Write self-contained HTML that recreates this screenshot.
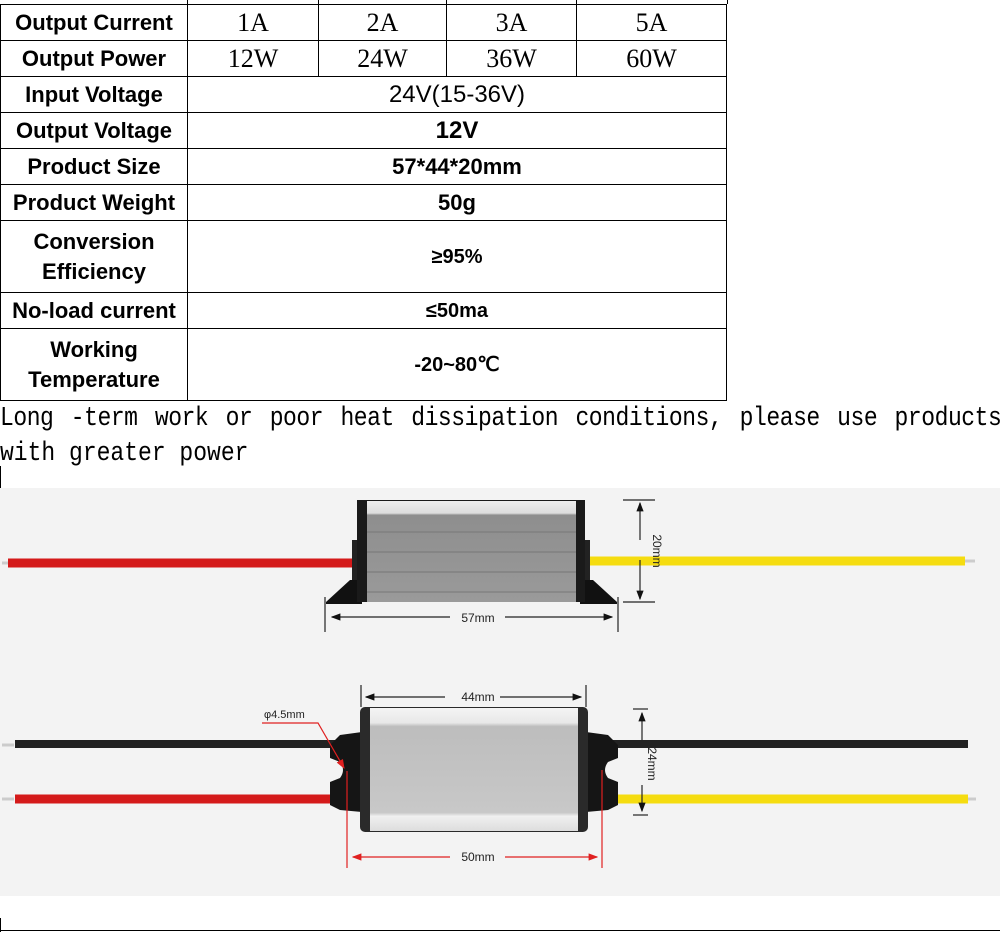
<!DOCTYPE html>
<html><head><meta charset="utf-8"><style>
body{margin:0;background:#fff;width:1000px;height:932px;overflow:hidden;position:relative;font-family:"Liberation Sans",sans-serif}
table{position:absolute;left:0;top:4px;border-collapse:collapse;width:727px}
td{border:1px solid #000;padding:0;text-align:center;font-weight:bold;font-size:22px;height:35px;line-height:26px}
td.l{width:186px}
td.s{font-family:"Liberation Serif",serif;font-weight:normal;font-size:26px}
.ln{position:absolute;left:0;width:1000px;font-family:"Liberation Mono",monospace;font-size:23px;line-height:30px;white-space:nowrap;transform:scaleY(1.15);transform-origin:0 0}
</style></head><body>
<div style="position:absolute;left:0;top:0;width:727px;height:4px;border-right:1px solid #000"></div>
<div style="position:absolute;left:187px;top:0;width:1px;height:4px;background:#000"></div>
<div style="position:absolute;left:318px;top:0;width:1px;height:4px;background:#000"></div>
<div style="position:absolute;left:446px;top:0;width:1px;height:4px;background:#000"></div>
<div style="position:absolute;left:576px;top:0;width:1px;height:4px;background:#000"></div>
<table>
<tr><td class="l">Output Current</td><td class="s" style="width:130px">1A</td><td class="s" style="width:127px">2A</td><td class="s" style="width:129px">3A</td><td class="s">5A</td></tr>
<tr><td class="l">Output Power</td><td class="s">12W</td><td class="s">24W</td><td class="s">36W</td><td class="s">60W</td></tr>
<tr><td class="l">Input Voltage</td><td colspan="4" style="font-weight:normal;font-size:24px">24V(15-36V)</td></tr>
<tr><td class="l">Output Voltage</td><td colspan="4" style="font-size:24px">12V</td></tr>
<tr><td class="l">Product Size</td><td colspan="4">57*44*20mm</td></tr>
<tr><td class="l">Product Weight</td><td colspan="4">50g</td></tr>
<tr><td class="l" style="height:71px;line-height:30px">Conversion<br>Efficiency</td><td colspan="4" style="font-size:20px">≥95%</td></tr>
<tr><td class="l">No-load current</td><td colspan="4" style="font-size:20px">≤50ma</td></tr>
<tr><td class="l" style="height:71px;line-height:30px">Working<br>Temperature</td><td colspan="4" style="font-size:20px">-20~80℃</td></tr>
</table>
<div class="ln" style="top:401px;letter-spacing:-0.45px;word-spacing:4px">Long -term work or poor heat dissipation conditions, please use products</div>
<div class="ln" style="top:436px">with greater power</div>
<div style="position:absolute;left:0;top:466px;width:1px;height:22px;background:#000"></div>
<svg style="position:absolute;left:0;top:0" width="1000" height="932">
<defs>
<linearGradient id="g1" x1="0" y1="0" x2="0" y2="1"><stop offset="0" stop-color="#eee"/><stop offset="0.12" stop-color="#ddd"/><stop offset="0.14" stop-color="#8e8e8e"/><stop offset="1" stop-color="#9a9a9a"/></linearGradient>
<linearGradient id="g2" x1="0" y1="0" x2="0" y2="1"><stop offset="0" stop-color="#f4f4f4"/><stop offset="0.12" stop-color="#e8e8e8"/><stop offset="0.15" stop-color="#bdbdbd"/><stop offset="0.85" stop-color="#c8c8c8"/><stop offset="0.88" stop-color="#f0f0f0"/><stop offset="1" stop-color="#ddd"/></linearGradient>
<marker id="ab" markerWidth="8" markerHeight="8" refX="7" refY="4" orient="auto"><path d="M0,1 L8,4 L0,7z" fill="#111"/></marker>
<marker id="ar" markerWidth="8" markerHeight="8" refX="7" refY="4" orient="auto"><path d="M0,1 L8,4 L0,7z" fill="#e02020"/></marker>
</defs>
<rect x="0" y="488" width="1000" height="408" fill="#f3f3f3"/>
<line x1="2" y1="563" x2="12" y2="563" stroke="#ccc" stroke-width="3"/>
<line x1="8" y1="563" x2="360" y2="563" stroke="#d41a1a" stroke-width="9"/>
<line x1="585" y1="561" x2="965" y2="561" stroke="#f5dc10" stroke-width="9"/>
<line x1="965" y1="561" x2="975" y2="561" stroke="#ccc" stroke-width="3"/>
<path d="M326,602 L350,580 L362,580 L362,604 L326,604z" fill="#111"/>
<path d="M617,602 L593,580 L580,580 L580,604 L617,604z" fill="#111"/>
<rect x="352" y="540" width="10" height="40" fill="#222"/>
<rect x="580" y="540" width="10" height="40" fill="#222"/>
<rect x="357" y="500" width="228" height="102" fill="#1a1a1a"/>
<rect x="367" y="501" width="209" height="101" fill="url(#g1)"/>
<g stroke="#777" stroke-width="1"><line x1="367" y1="532" x2="576" y2="532"/><line x1="367" y1="552" x2="576" y2="552"/><line x1="367" y1="572" x2="576" y2="572"/><line x1="367" y1="592" x2="576" y2="592"/></g>
<g stroke="#222" stroke-width="1.2" fill="none">
<line x1="623" y1="500" x2="655" y2="500"/><line x1="623" y1="602" x2="655" y2="602"/>
<line x1="640" y1="540" x2="640" y2="503" marker-end="url(#ab)"/><line x1="640" y1="560" x2="640" y2="599" marker-end="url(#ab)"/>
<line x1="325" y1="597" x2="325" y2="632"/><line x1="618" y1="597" x2="618" y2="632"/>
<line x1="450" y1="617" x2="332" y2="617" marker-end="url(#ab)"/><line x1="505" y1="617" x2="612" y2="617" marker-end="url(#ab)"/>
</g>
<text x="478" y="622" font-size="12" text-anchor="middle" font-family="Liberation Sans" fill="#222">57mm</text>
<text transform="translate(653,551) rotate(90)" font-size="12" text-anchor="middle" font-family="Liberation Sans" fill="#222">20mm</text>
<line x1="2" y1="745" x2="14" y2="745" stroke="#ccc" stroke-width="3"/>
<line x1="15" y1="744" x2="360" y2="744" stroke="#222" stroke-width="8"/>
<line x1="585" y1="744" x2="968" y2="744" stroke="#222" stroke-width="8"/>
<line x1="2" y1="799" x2="14" y2="799" stroke="#ccc" stroke-width="3"/>
<line x1="15" y1="799" x2="360" y2="799" stroke="#d41a1a" stroke-width="9"/>
<line x1="585" y1="799" x2="968" y2="799" stroke="#f5dc10" stroke-width="9"/>
<line x1="968" y1="799" x2="976" y2="799" stroke="#ccc" stroke-width="3"/>
<path d="M362,732 L340,735 L330,745 L330,758 L340,762 Q346,770 340,778 L330,782 L330,805 L340,810 L362,812z" fill="#151515"/>
<path d="M586,732 L608,735 L618,745 L618,758 L608,762 Q602,770 608,778 L618,782 L618,805 L608,810 L586,812z" fill="#151515"/>
<rect x="360" y="707" width="228" height="125" rx="5" fill="#2a2a2a"/>
<rect x="370" y="708" width="208" height="123" fill="url(#g2)"/>
<g stroke="#222" stroke-width="1.2">
<line x1="361" y1="685" x2="361" y2="707"/><line x1="586" y1="685" x2="586" y2="707"/>
<line x1="445" y1="697" x2="366" y2="697" marker-end="url(#ab)"/><line x1="500" y1="697" x2="581" y2="697" marker-end="url(#ab)"/>
<line x1="633" y1="709" x2="648" y2="709"/><line x1="633" y1="815" x2="648" y2="815"/>
<line x1="642" y1="745" x2="642" y2="713" marker-end="url(#ab)"/><line x1="642" y1="785" x2="642" y2="811" marker-end="url(#ab)"/>
</g>
<text x="478" y="701" font-size="12" text-anchor="middle" font-family="Liberation Sans" fill="#222">44mm</text>
<text transform="translate(648,764) rotate(90)" font-size="12" text-anchor="middle" font-family="Liberation Sans" fill="#222">24mm</text>
<text x="264" y="718" font-size="11" font-family="Liberation Sans" fill="#222">φ4.5mm</text>
<g stroke="#e02020" stroke-width="1.2" fill="none">
<polyline points="262,723 318,723 344,768" marker-end="url(#ar)"/>
<line x1="347" y1="771" x2="347" y2="868"/><line x1="602" y1="770" x2="602" y2="868"/>
<line x1="450" y1="857" x2="353" y2="857" marker-end="url(#ar)"/><line x1="505" y1="857" x2="597" y2="857" marker-end="url(#ar)"/>
</g>
<text x="478" y="861" font-size="12" text-anchor="middle" font-family="Liberation Sans" fill="#222">50mm</text>
<line x1="0.5" y1="918" x2="0.5" y2="932" stroke="#000"/>
<line x1="0" y1="930.5" x2="1000" y2="930.5" stroke="#000"/>
</svg>
</body></html>
